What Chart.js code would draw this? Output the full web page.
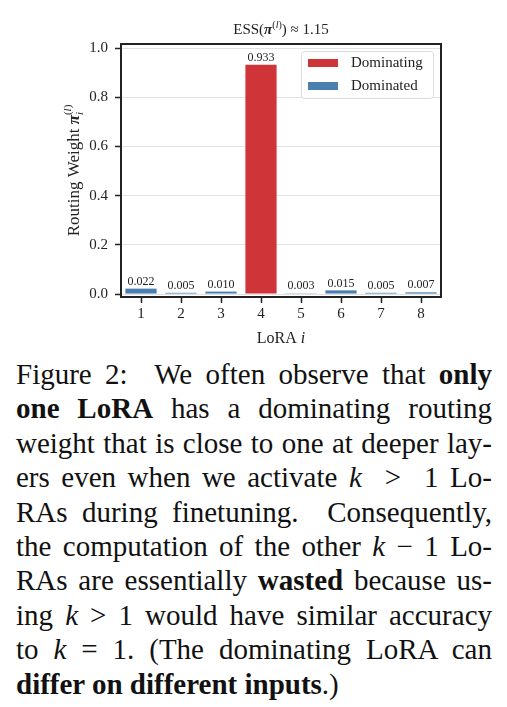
<!DOCTYPE html>
<html lang="en">

<head>
    <meta charset="UTF-8">
    <title>Routing weights</title>
    <script src="https://cdn.jsdelivr.net/npm/chart.js"></script>
    <style>
        body { margin: 0; background: #ffffff; width: 507px; height: 707px; overflow: hidden; position: relative; }
        #chartBox { position: absolute; left: 0; top: 0; width: 507px; height: 350px; }
        #caption { position: absolute; left: 16px; top: 357px; width: 476px; font-family: "Liberation Serif", serif; font-size: 29px; line-height: 34.4px; color: #111; }
        #caption div { text-align: justify; text-align-last: justify; white-space: nowrap; }
        #caption div.last { text-align-last: left; }
    </style>
</head>

<body>
    <div id="chartBox"><canvas id="myChart" width="507" height="350"></canvas></div>
    <div id="caption">
        <div>Figure 2: &nbsp;We often observe that <b>only</b></div>
        <div><b>one LoRA</b> has a dominating routing</div>
        <div>weight that is close to one at deeper lay-</div>
        <div>ers even when we activate <i>k</i>&nbsp;&nbsp;&gt;&nbsp;&nbsp;1 Lo-</div>
        <div>RAs during finetuning. &nbsp;Consequently,</div>
        <div>the computation of the other <i>k</i>&nbsp;&minus;&nbsp;1 Lo-</div>
        <div>RAs are essentially <b>wasted</b> because us-</div>
        <div>ing <i>k</i>&nbsp;&gt;&nbsp;1 would have similar accuracy</div>
        <div>to <i>k</i>&nbsp;=&nbsp;1. (The dominating LoRA can</div>
        <div class="last"><b>differ on different inputs</b>.)</div>
    </div>

    <script>
        // data
        const loraIds = [ '1', '2', '3', '4', '5', '6', '7', '8' ];
        const routingWeights = [ 0.022, 0.005, 0.010, 0.933, 0.003, 0.015, 0.005, 0.007 ];
        const dominantIndex = 3;
        const yTicks = [ 0.0, 0.2, 0.4, 0.6, 0.8, 1.0 ];

        const RED = '#cf3438';
        const BLUE = '#4a7fb0';
        const SERIF = '"Liberation Serif", "DejaVu Serif", serif';

        const dominating = routingWeights.map( ( v, i ) => i === dominantIndex ? v : null );
        const dominated = routingWeights.map( ( v, i ) => i === dominantIndex ? null : v );

        // draws a line of text made of runs with their own font / offset
        function drawRuns( ctx, runs, x, y ) {
            let total = 0;
            for ( const r of runs ) {
                ctx.font = r.f;
                if ( !r.stay ) total += ctx.measureText( r.t ).width;
            }
            let cx = x - total / 2;
            ctx.textAlign = 'left';
            ctx.textBaseline = 'alphabetic';
            for ( const r of runs ) {
                ctx.font = r.f;
                ctx.fillText( r.t, cx, y + ( r.dy || 0 ) );
                if ( !r.stay ) cx += ctx.measureText( r.t ).width;
            }
        }

        const textPlugin = {
            id: 'textPlugin',
            afterDraw( chart ) {
                const ctx = chart.ctx;
                const a = chart.chartArea;
                ctx.save();
                ctx.fillStyle = '#222';

                // frame of the plot
                ctx.strokeStyle = '#222';
                ctx.lineWidth = 2;
                ctx.strokeRect( a.left, a.top, a.right - a.left, a.bottom - a.top );

                // title
                const f15 = `15px ${ SERIF }`;
                drawRuns( ctx, [
                    { t: 'ESS(', f: f15 },
                    { t: 'π', f: `bold italic 15px ${ SERIF }` },
                    { t: '(', f: `10px ${ SERIF }`, dy: -6 },
                    { t: 'l', f: `italic 10px ${ SERIF }`, dy: -6 },
                    { t: ')', f: `10px ${ SERIF }`, dy: -6 },
                    { t: ') ≈ 1.15', f: f15 }
                ], ( a.left + a.right ) / 2, 34 );

                // x title
                drawRuns( ctx, [
                    { t: 'LoRA ', f: `16px ${ SERIF }` },
                    { t: 'i', f: `italic 16px ${ SERIF }` }
                ], ( a.left + a.right ) / 2, 343 );

                // y title
                ctx.save();
                ctx.translate( 79, ( a.top + a.bottom ) / 2 );
                ctx.rotate( -Math.PI / 2 );
                drawRuns( ctx, [
                    { t: 'Routing Weight ', f: `17px ${ SERIF }` },
                    { t: 'π', f: `bold italic 17px ${ SERIF }` },
                    { t: 'i', f: `italic 11px ${ SERIF }`, dy: 4, stay: true },
                    { t: '(', f: `11px ${ SERIF }`, dy: -8 },
                    { t: 'l', f: `italic 11px ${ SERIF }`, dy: -8 },
                    { t: ')', f: `11px ${ SERIF }`, dy: -8 }
                ], 0, 0 );
                ctx.restore();

                // value labels above bars
                ctx.font = `12px ${ SERIF }`;
                ctx.textAlign = 'center';
                ctx.textBaseline = 'bottom';
                chart.data.datasets.forEach( ( ds, di ) => {
                    chart.getDatasetMeta( di ).data.forEach( ( el, i ) => {
                        if ( ds.data[ i ] == null ) return;
                        ctx.fillText( ds.data[ i ].toFixed( 3 ), el.x, el.y - 1 );
                    } );
                } );

                // legend box in the top right corner
                const lx = 301, ly = 51, lw = 132, lh = 47;
                ctx.fillStyle = 'rgba(255,255,255,0.85)';
                ctx.strokeStyle = '#dcdcdc';
                ctx.lineWidth = 1;
                ctx.beginPath();
                ctx.roundRect( lx + 0.5, ly + 0.5, lw, lh, 3 );
                ctx.fill();
                ctx.stroke();
                ctx.font = `15px ${ SERIF }`;
                ctx.textAlign = 'left';
                ctx.textBaseline = 'middle';
                chart.data.datasets.forEach( ( ds, di ) => {
                    const yy = ly + 12 + di * 23;
                    ctx.fillStyle = ds.backgroundColor;
                    ctx.fillRect( lx + 7, yy - 4, 30, 8 );
                    ctx.fillStyle = '#222';
                    ctx.fillText( ds.label, lx + 50, yy );
                } );
                ctx.restore();
            }
        };

        const ctx = document.getElementById( 'myChart' ).getContext( '2d' );
        const myChart = new Chart( ctx, {
            type: 'bar',
            data: {
                labels: loraIds,
                datasets: [
                    { label: 'Dominating', data: dominating, backgroundColor: RED, grouped: false },
                    { label: 'Dominated', data: dominated, backgroundColor: BLUE, grouped: false }
                ]
            },
            options: {
                responsive: false,
                animation: false,
                devicePixelRatio: 1,
                layout: { padding: { left: 0, right: 66, top: 44, bottom: 0 } },
                datasets: { bar: { barPercentage: 0.78, categoryPercentage: 1.0 } },
                plugins: { legend: { display: false }, title: { display: false }, tooltip: { enabled: false } },
                scales: {
                    x: {
                        grid: { display: true, drawOnChartArea: false, offset: false, tickColor: '#222', tickLength: 6, tickWidth: 1.5 },
                        border: { display: true, color: '#222', width: 2 },
                        ticks: { color: '#222', font: { family: SERIF, size: 15 }, padding: 2 },
                        afterFit: s => { s.height = 53; }
                    },
                    y: {
                        min: -0.012,
                        max: 1.017,
                        afterBuildTicks: s => { s.ticks = yTicks.map( v => ( { value: v } ) ); },
                        grid: { color: '#e2e2e2', borderDash: [ 5, 4 ], lineWidth: 1, tickColor: '#222', tickLength: 6, tickWidth: 1.5, tickBorderDash: [] },
                        border: { display: true, color: '#222', width: 2 },
                        ticks: { color: '#222', font: { family: SERIF, size: 15 }, padding: 7, callback: v => v.toFixed( 1 ) },
                        afterFit: s => { s.width = 121; }
                    }
                }
            },
            plugins: [ textPlugin ]
        } );
    </script>
</body>

</html>
